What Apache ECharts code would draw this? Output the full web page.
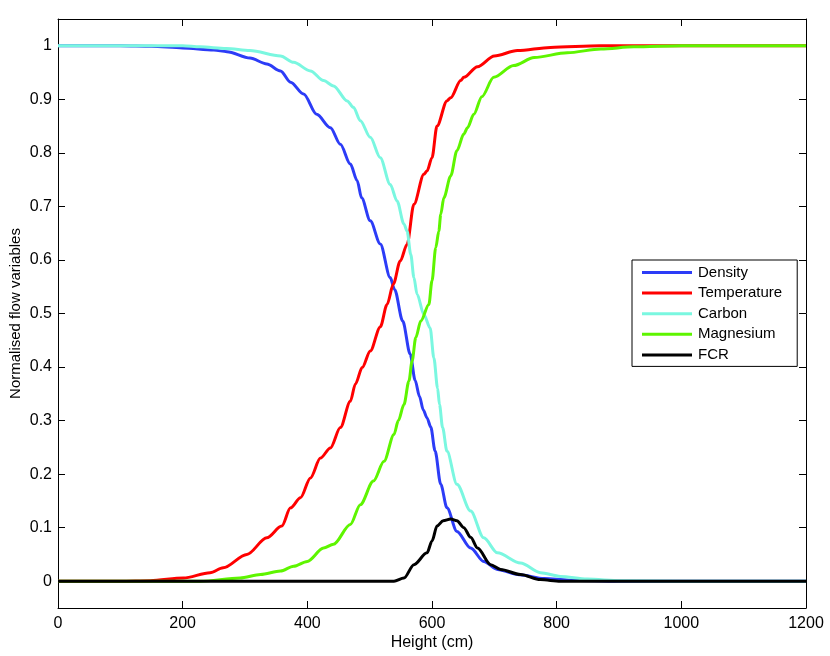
<!DOCTYPE html>
<html>
<head>
<meta charset="utf-8">
<script src="https://cdn.jsdelivr.net/npm/echarts@6/dist/echarts.min.js"></script>
<style>
html,body{margin:0;padding:0;background:#fff;}
#chart{width:830px;height:656px;}
</style>
</head>
<body>
<div id="chart"></div>
<script>
// Series names
var seriesNames = ['Density', 'Temperature', 'Carbon', 'Magnesium', 'FCR'];

// Tick values
var xTicks = [0, 200, 400, 600, 800, 1000, 1200];
var yTicks = [0, 0.1, 0.2, 0.3, 0.4, 0.5, 0.6, 0.7, 0.8, 0.9, 1];

// [height (cm), value] pairs
var density = [
  [0,1.0],[100,1.0],[150,0.999],[200,0.996],[250,0.992],[271,0.989],[308,0.977],[335,0.966],
  [357,0.953],[373,0.932],[394,0.910],[415,0.872],[437,0.847],[453,0.816],[469,0.779],
  [480,0.748],[487,0.716],[501,0.673],[517,0.630],[533,0.567],[540,0.545],[553,0.486],
  [565,0.424],[573,0.375],[580,0.345],[586,0.320],[592,0.305],[598,0.288],[605,0.243],
  [614,0.181],[624,0.137],[640,0.093],[662,0.062],[683,0.037],[705,0.022],[740,0.012],
  [780,0.005],[820,0.002],[900,0.0],[1200,0.0]
];
var temperature = [
  [0,0],[100,0],[148,0.001],[201,0.006],[244,0.016],[265,0.025],[303,0.050],[335,0.081],
  [359,0.103],[373,0.137],[389,0.156],[405,0.193],[421,0.230],[437,0.249],[453,0.287],
  [469,0.336],[477,0.368],[488,0.399],[501,0.430],[517,0.475],[528,0.517],[538,0.555],
  [549,0.598],[560,0.629],[571,0.704],[587,0.760],[592,0.766],[600,0.791],[608,0.850],
  [624,0.897],[630,0.903],[646,0.935],[651,0.941],[673,0.961],[700,0.981],[737,0.991],
  [790,0.997],[870,1.0],[1200,1.0]
];
var carbon = [
  [0,1.0],[200,1.0],[228,0.998],[270,0.995],[308,0.991],[357,0.981],[378,0.969],[405,0.953],
  [426,0.935],[442,0.925],[464,0.897],[474,0.885],[485,0.860],[501,0.829],[517,0.791],
  [533,0.741],[544,0.710],[555,0.667],[560,0.654],[566,0.610],[571,0.567],[576,0.536],
  [587,0.498],[597,0.473],[603,0.417],[609,0.360],[612,0.330],[617,0.287],[624,0.243],
  [640,0.181],[662,0.131],[683,0.081],[705,0.053],[742,0.034],[774,0.016],[806,0.009],
  [849,0.004],[903,0.001],[1000,0.0],[1200,0.0]
];
var magnesium = [
  [0,0],[200,0],[228,0.0],[292,0.006],[325,0.0125],[357,0.019],[378,0.028],[400,0.037],
  [426,0.062],[442,0.069],[469,0.106],[485,0.143],[506,0.187],[523,0.224],[539,0.274],
  [546,0.300],[555,0.330],[563,0.374],[568,0.411],[574,0.455],[582,0.486],[595,0.517],
  [600,0.561],[606,0.623],[611,0.654],[614,0.685],[619,0.716],[630,0.757],[640,0.804],
  [651,0.835],[657,0.847],[667,0.872],[680,0.905],[699,0.941],[731,0.963],[764,0.978],
  [817,0.987],[871,0.994],[924,0.998],[1000,1.0],[1200,1.0]
];
var fcr = [
  [0,0],[539,0],[555,0.006],[571,0.031],[592,0.053],[600,0.075],[608,0.103],[618,0.113],
  [630,0.116],[640,0.113],[651,0.100],[662,0.082],[673,0.062],[694,0.031],[710,0.022],
  [742,0.0125],[774,0.003],[806,0.0],[1200,0.0]
];

var colors = ['#2c3cf7', '#ff0000', '#7af7e0', '#5ef500', '#000000'];
var allData = [density, temperature, carbon, magnesium, fcr];

var font = '"Liberation Sans", Arial, Helvetica, sans-serif';

var chart = echarts.init(document.getElementById('chart'), null, {renderer: 'canvas'});

var series = seriesNames.map(function (name, i) {
  return {
    name: name,
    type: 'line',
    data: allData[i],
    showSymbol: false,
    symbol: 'none',
    smooth: 0.3,
    smoothMonotone: 'x',
    lineStyle: {width: 3, color: colors[i]},
    itemStyle: {color: colors[i]},
    animation: false,
    z: 2 + i
  };
});

var axisLine = {show: true, onZero: false, lineStyle: {color: '#000', width: 1}};
var tickStyle = {show: true, inside: true, length: 7, lineStyle: {color: '#000', width: 1}};

var option = {
  backgroundColor: '#fff',
  animation: false,
  grid: {left: 58, right: 24, top: 19, bottom: 48, containLabel: false, outerBoundsMode: 'none'},
  legend: {
    orient: 'vertical',
    left: 632,
    top: 260,
    padding: [4, 15, 3, 10],
    itemWidth: 50,
    itemHeight: 3,
    itemGap: 3.6,
    icon: 'rect',
    borderColor: '#000',
    borderWidth: 1,
    backgroundColor: '#fff',
    data: seriesNames,
    textStyle: {fontFamily: font, fontSize: 15, color: '#000', lineHeight: 17, padding: [0, 0, 0, 1]}
  },
  xAxis: [
    {
      type: 'value', min: 0, max: 1200, interval: 200, position: 'bottom',
      name: 'Height (cm)', nameLocation: 'middle', nameGap: 27, nameMoveOverlap: false,
      nameTextStyle: {fontFamily: font, fontSize: 16, color: '#000'},
      axisLine: axisLine, axisTick: tickStyle,
      axisLabel: {show: true, margin: 8, fontFamily: font, fontSize: 16, color: '#000', customValues: xTicks,
        formatter: function (v) { return String(v); }},
      splitLine: {show: false}
    },
    {
      type: 'value', min: 0, max: 1200, interval: 200, position: 'top',
      axisLine: axisLine, axisTick: tickStyle,
      axisLabel: {show: false}, splitLine: {show: false}
    }
  ],
  yAxis: [
    {
      type: 'value', min: -0.05, max: 1.05, position: 'left',
      name: 'Normalised flow variables', nameLocation: 'middle', nameGap: 35, nameMoveOverlap: false,
      nameTextStyle: {fontFamily: font, fontSize: 15, color: '#000'},
      axisLine: axisLine,
      axisTick: {show: true, inside: true, length: 7, lineStyle: {color: '#000', width: 1}, customValues: yTicks},
      axisLabel: {show: true, margin: 6, fontFamily: font, fontSize: 16, color: '#000', customValues: yTicks,
        formatter: function (v) { return String(Math.round(v * 10) / 10); }},
      splitLine: {show: false}
    },
    {
      type: 'value', min: -0.05, max: 1.05, position: 'right',
      axisLine: axisLine,
      axisTick: {show: true, inside: true, length: 7, lineStyle: {color: '#000', width: 1}, customValues: yTicks},
      axisLabel: {show: false}, splitLine: {show: false}
    }
  ],
  series: series
};

chart.setOption(option);
</script>
</body>
</html>
